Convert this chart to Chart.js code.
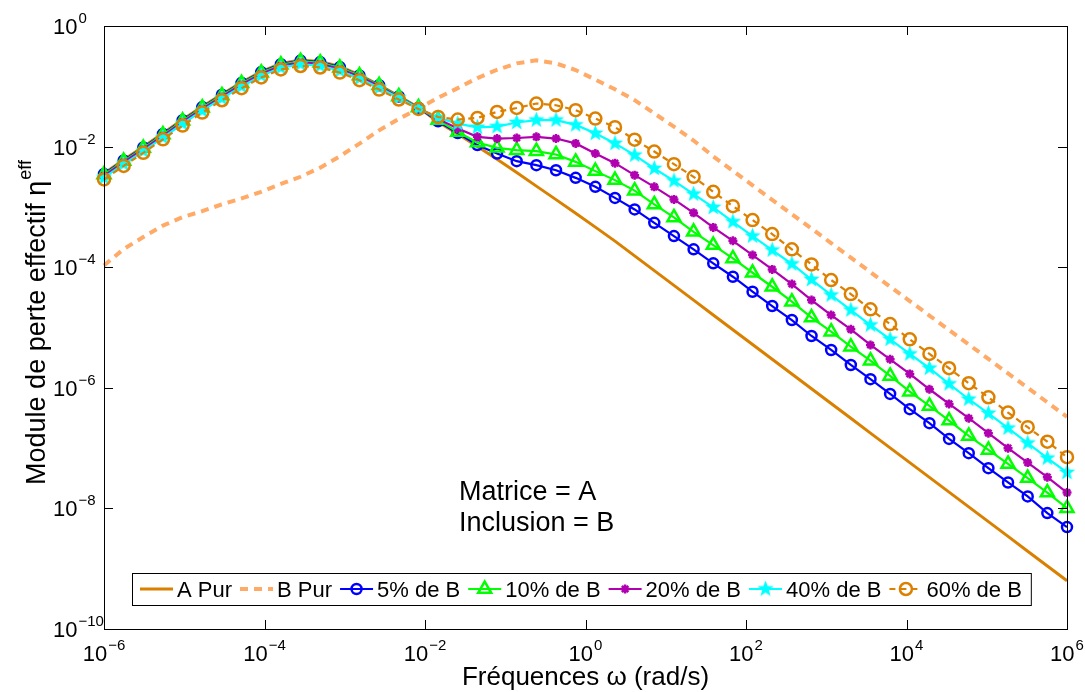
<!DOCTYPE html>
<html>
<head>
<meta charset="UTF-8">
<title>Module de perte effectif</title>
<script src="https://cdn.jsdelivr.net/npm/chart.js"></script>
<style>
  body { margin: 0; background: #fff; }
  #wrap { width: 1085px; height: 692px; }
</style>
</head>
<body>
<div id="wrap"><canvas id="myChart" width="1085" height="692"></canvas></div>

<script>
// frequencies (rad/s), 50 points per curve
const freq = [1e-6, 1.758e-6, 3.089e-6, 5.429e-6, 9.541e-6, 1.677e-5, 2.947e-5, 5.179e-5, 9.103e-5, 1.600e-4,
  2.812e-4, 4.942e-4, 8.685e-4, 1.526e-3, 2.683e-3, 4.715e-3, 8.286e-3, 1.456e-2, 2.559e-2, 4.498e-2,
  7.906e-2, 0.1389, 0.2442, 0.4292, 0.7543, 1.326, 2.330, 4.095, 7.197, 12.65,
  22.23, 39.07, 68.66, 120.7, 212.1, 372.8, 655.1, 1151, 2024, 3556,
  6251, 10985, 19307, 33932, 59636, 104811, 184207, 323746, 568987, 1e6];

const aPur = [3.59e-3, 6.03e-3, 9.91e-3, 1.66e-2, 2.81e-2, 4.62e-2, 7.40e-2, 0.117, 0.176, 0.239,
  0.274, 0.258, 0.213, 0.155, 0.105, 6.92e-2, 4.47e-2, 2.57e-2, 1.62e-2, 1.00e-2,
  6.17e-3, 3.72e-3, 2.21e-3, 1.32e-3, 7.85e-4, 4.62e-4, 2.71e-4, 1.54e-4, 8.77e-5, 4.99e-5,
  2.84e-5, 1.61e-5, 9.18e-6, 5.22e-6, 2.97e-6, 1.69e-6, 9.64e-7, 5.48e-7, 3.12e-7, 1.77e-7,
  1.01e-7, 5.74e-8, 3.27e-8, 1.86e-8, 1.06e-8, 6.03e-9, 3.43e-9, 1.95e-9, 1.11e-9, 6.31e-10];

const bPur = [1.07e-4, 2.00e-4, 3.16e-4, 4.90e-4, 6.76e-4, 8.51e-4, 1.10e-3, 1.38e-3, 1.78e-3, 2.40e-3,
  3.16e-3, 4.47e-3, 6.92e-3, 1.12e-2, 1.86e-2, 2.88e-2, 4.27e-2, 6.46e-2, 9.33e-2, 0.137,
  0.188, 0.240, 0.269, 0.240, 0.186, 0.129, 8.91e-2, 5.89e-2, 3.55e-2, 2.14e-2,
  1.26e-2, 6.89e-3, 3.96e-3, 2.28e-3, 1.31e-3, 7.57e-4, 4.36e-4, 2.51e-4, 1.44e-4, 8.28e-5,
  4.76e-5, 2.74e-5, 1.58e-5, 9.08e-6, 5.22e-6, 3.01e-6, 1.73e-6, 9.98e-7, 5.74e-7, 3.30e-7];

const p5 = [3.51e-3, 5.89e-3, 9.68e-3, 1.62e-2, 2.74e-2, 4.52e-2, 7.23e-2, 0.114, 0.172, 0.233,
  0.267, 0.252, 0.208, 0.151, 0.104, 6.78e-2, 4.42e-2, 2.63e-2, 1.68e-2, 1.06e-2,
  7.69e-3, 5.73e-3, 4.92e-3, 4.06e-3, 3.03e-3, 2.15e-3, 1.41e-3, 9.08e-4, 5.45e-4, 3.28e-4,
  1.98e-4, 1.16e-4, 6.95e-5, 3.92e-5, 2.27e-5, 1.33e-5, 7.23e-6, 4.24e-6, 2.39e-6, 1.39e-6,
  7.91e-7, 4.42e-7, 2.59e-7, 1.42e-7, 8.24e-8, 4.65e-8, 2.69e-8, 1.58e-8, 8.36e-9, 4.90e-9];

const p10 = [3.43e-3, 5.75e-3, 9.46e-3, 1.58e-2, 2.68e-2, 4.42e-2, 7.06e-2, 0.112, 0.168, 0.228,
  0.261, 0.246, 0.203, 0.151, 0.104, 6.78e-2, 4.47e-2, 2.75e-2, 1.75e-2, 1.17e-2,
  9.53e-3, 8.73e-3, 8.39e-3, 7.40e-3, 5.58e-3, 3.92e-3, 2.78e-3, 1.86e-3, 1.10e-3, 6.70e-4,
  3.86e-4, 2.33e-4, 1.40e-4, 8.09e-5, 4.74e-5, 2.68e-5, 1.46e-5, 8.51e-6, 4.81e-6, 2.82e-6,
  1.57e-6, 8.63e-7, 5.00e-7, 2.86e-7, 1.59e-7, 9.33e-8, 5.47e-8, 3.18e-8, 1.83e-8, 1.01e-8];

const p20 = [3.27e-3, 5.50e-3, 9.04e-3, 1.51e-2, 2.56e-2, 4.22e-2, 6.75e-2, 0.107, 0.160, 0.218,
  0.249, 0.235, 0.194, 0.145, 0.101, 6.62e-2, 4.42e-2, 2.88e-2, 2.00e-2, 1.45e-2,
  1.36e-2, 1.39e-2, 1.45e-2, 1.36e-2, 1.13e-2, 7.69e-3, 5.31e-3, 3.36e-3, 2.15e-3, 1.33e-3,
  7.98e-4, 4.57e-4, 2.74e-4, 1.59e-4, 9.20e-5, 5.26e-5, 2.85e-5, 1.61e-5, 9.33e-6, 5.13e-6,
  2.97e-6, 1.70e-6, 9.46e-7, 5.41e-7, 3.13e-7, 1.77e-7, 9.98e-8, 5.75e-8, 3.30e-8, 1.83e-8];

const p40 = [3.05e-3, 5.13e-3, 8.43e-3, 1.41e-2, 2.39e-2, 3.94e-2, 6.30e-2, 9.95e-2, 0.150, 0.203,
  0.233, 0.219, 0.181, 0.135, 9.46e-2, 6.46e-2, 4.32e-2, 3.02e-2, 2.40e-2, 2.09e-2,
  2.14e-2, 2.51e-2, 2.75e-2, 2.75e-2, 2.29e-2, 1.66e-2, 1.13e-2, 7.21e-3, 4.34e-3, 2.70e-3,
  1.63e-3, 9.79e-4, 5.66e-4, 3.28e-4, 1.92e-4, 1.13e-4, 6.24e-5, 3.45e-5, 1.95e-5, 1.10e-5,
  6.37e-6, 3.64e-6, 2.11e-6, 1.16e-6, 6.46e-7, 3.78e-7, 2.14e-7, 1.21e-7, 6.81e-8, 3.94e-8];

const p60 = [2.85e-3, 4.79e-3, 7.87e-3, 1.32e-2, 2.23e-2, 3.67e-2, 5.87e-2, 9.29e-2, 0.140, 0.190,
  0.217, 0.205, 0.169, 0.126, 8.83e-2, 6.04e-2, 4.22e-2, 3.10e-2, 2.81e-2, 2.99e-2,
  3.76e-2, 4.37e-2, 5.18e-2, 4.85e-2, 4.01e-2, 2.92e-2, 2.10e-2, 1.30e-2, 8.28e-3, 5.12e-3,
  3.15e-3, 1.78e-3, 1.03e-3, 6.04e-4, 3.54e-4, 1.98e-4, 1.11e-4, 6.12e-5, 3.59e-5, 2.00e-5,
  1.14e-5, 6.37e-6, 3.64e-6, 2.11e-6, 1.19e-6, 6.97e-7, 3.88e-7, 2.22e-7, 1.28e-7, 7.08e-8];

const labels = ['A Pur', 'B Pur', '5% de B', '10% de B', '20% de B', '40% de B', '60% de B'];
const xTicks = [1e-6, 1e-4, 1e-2, 1, 1e2, 1e4, 1e6];
const xTickExp = ['\u22126', '\u22124', '\u22122', '0', '2', '4', '6'];
const yTicks = [1, 1e-2, 1e-4, 1e-6, 1e-8, 1e-10];
const yTickExp = ['0', '\u22122', '\u22124', '\u22126', '\u22128', '\u221210'];

const FONT = '"Liberation Sans", Arial, Helvetica, sans-serif';

// filled five point star, like the matlab pentagram marker
function makeStar(size, color) {
    const c = document.createElement('canvas');
    c.width = size; c.height = size;
    const g = c.getContext('2d');
    const R = size / 2, r = R * 0.42;
    g.beginPath();
    for (let i = 0; i < 10; i++) {
        const a = -Math.PI / 2 + i * Math.PI / 5;
        const rr = i % 2 ? r : R;
        g.lineTo(R + rr * Math.cos(a), R + rr * Math.sin(a));
    }
    g.closePath();
    g.fillStyle = color;
    g.fill();
    return c;
}
const starImg = makeStar(17, '#00FFFF');

const looks = [
    { data: aPur, color: '#D98000', width: 3, dash: [], mark: null },
    { data: bPur, color: '#FFAA66', width: 4, dash: [8, 6], mark: null },
    { data: p5, color: '#0000FF', width: 2.2, dash: [], mark: 'circle', r: 5 },
    { data: p10, color: '#00FF00', width: 2.2, dash: [], mark: 'triangle', r: 7.5 },
    { data: p20, color: '#B000B0', width: 2.2, dash: [], mark: 'star', r: 4.5 },
    { data: p40, color: '#00FFFF', width: 2.2, dash: [], mark: 'pentagram', r: 8 },
    { data: p60, color: '#DD8000', width: 2.2, dash: [6, 5], mark: 'circle', r: 6 }
];

const datasets = looks.map((s, i) => ({
    label: labels[i],
    data: s.data.map((v, j) => ({ x: freq[j], y: v })),
    borderColor: s.color,
    borderWidth: s.width,
    borderDash: s.dash,
    pointStyle: s.mark === 'pentagram' ? starImg : (s.mark || 'circle'),
    pointRadius: s.mark ? s.r : 0,
    pointBorderColor: s.color,
    pointBackgroundColor: 'rgba(0,0,0,0)',
    pointBorderWidth: 2.5,
    tension: 0,
    fill: false,
    order: looks.length - i,
    clip: 12
}));

function drawMark(ctx, s, x, y) {
    ctx.save();
    ctx.setLineDash([]);
    ctx.strokeStyle = s.color;
    ctx.lineWidth = 2.5;
    const r = s.r;
    ctx.beginPath();
    if (s.mark === 'circle') {
        ctx.arc(x, y, r, 0, Math.PI * 2);
        ctx.stroke();
    } else if (s.mark === 'triangle') {
        for (let k = 0; k < 3; k++) {
            const a = k * 2 * Math.PI / 3;
            ctx.lineTo(x + Math.sin(a) * r, y - Math.cos(a) * r);
        }
        ctx.closePath();
        ctx.stroke();
    } else if (s.mark === 'star') {
        const d = r * Math.SQRT1_2;
        ctx.moveTo(x - d, y - d); ctx.lineTo(x + d, y + d);
        ctx.moveTo(x - d, y + d); ctx.lineTo(x + d, y - d);
        ctx.moveTo(x, y - r); ctx.lineTo(x, y + r);
        ctx.moveTo(x - r, y); ctx.lineTo(x + r, y);
        ctx.stroke();
    } else if (s.mark === 'pentagram') {
        ctx.drawImage(starImg, x - starImg.width / 2, y - starImg.height / 2);
    }
    ctx.restore();
}

const matlabAxes = {
    id: 'matlabAxes',
    afterDraw(chart) {
        const { ctx, chartArea: a } = chart;
        const x = chart.scales.x, y = chart.scales.y;
        ctx.save();
        ctx.fillStyle = '#000';
        ctx.strokeStyle = '#000';
        ctx.lineWidth = 1;

        // axes box and inward ticks
        ctx.strokeRect(a.left + 0.5, a.top + 0.5, a.right - a.left, a.bottom - a.top);
        ctx.beginPath();
        xTicks.forEach(v => {
            const px = Math.round(x.getPixelForValue(v)) + 0.5;
            ctx.moveTo(px, a.bottom); ctx.lineTo(px, a.bottom - 9);
            ctx.moveTo(px, a.top); ctx.lineTo(px, a.top + 9);
        });
        yTicks.forEach(v => {
            const py = Math.round(y.getPixelForValue(v)) + 0.5;
            ctx.moveTo(a.left, py); ctx.lineTo(a.left + 9, py);
            ctx.moveTo(a.right, py); ctx.lineTo(a.right - 9, py);
        });
        ctx.stroke();

        // tick labels 10^n
        ctx.textAlign = 'left';
        ctx.textBaseline = 'alphabetic';
        xTicks.forEach((v, i) => {
            const px = x.getPixelForValue(v);
            ctx.font = '22px ' + FONT;
            const w1 = ctx.measureText('10').width;
            ctx.font = '15px ' + FONT;
            const w2 = ctx.measureText(xTickExp[i]).width;
            const x0 = px - (w1 + w2 + 1) / 2;
            ctx.font = '22px ' + FONT;
            ctx.fillText('10', x0, 661);
            ctx.font = '15px ' + FONT;
            ctx.fillText(xTickExp[i], x0 + w1 + 1, 650);
        });
        yTicks.forEach((v, i) => {
            const py = y.getPixelForValue(v);
            ctx.font = '22px ' + FONT;
            const w1 = ctx.measureText('10').width;
            ctx.fillText('10', 53, py + 8);
            ctx.font = '15px ' + FONT;
            ctx.fillText(yTickExp[i], 53 + w1 + 1, py - 3);
        });

        // axis titles
        ctx.font = '26px ' + FONT;
        ctx.textAlign = 'center';
        ctx.fillText('Fréquences ω (rad/s)', (a.left + a.right) / 2, 685);

        ctx.save();
        ctx.translate(45, 323);
        ctx.rotate(-Math.PI / 2);
        ctx.textAlign = 'left';
        ctx.font = '27px ' + FONT;
        const main = 'Module de perte effectif η';
        const wm = ctx.measureText(main).width;
        ctx.font = '18px ' + FONT;
        const ws = ctx.measureText('eff').width;
        const s0 = -(wm + ws) / 2;
        ctx.font = '27px ' + FONT;
        ctx.fillText(main, s0, 0);
        ctx.font = '18px ' + FONT;
        ctx.fillText('eff', s0 + wm + 1, -14);
        ctx.restore();

        // annotation
        ctx.textAlign = 'left';
        ctx.font = '27px ' + FONT;
        ctx.fillText('Matrice = A', 459, 500);
        ctx.fillText('Inclusion = B', 459, 531);

        // legend, one row in a box
        ctx.font = '22px ' + FONT;
        const boxL = 132, boxT = 573, boxH = 32, cy = boxT + boxH / 2;
        let sx = 140;
        const items = looks.map((s, i) => {
            const it = { s: s, label: labels[i], x: sx };
            sx += 37 + ctx.measureText(labels[i]).width + 8;
            return it;
        });
        const boxR = sx + 1;
        ctx.fillStyle = '#fff';
        ctx.fillRect(boxL, boxT, boxR - boxL, boxH);
        ctx.strokeRect(boxL + 0.5, boxT + 0.5, boxR - boxL, boxH);
        items.forEach(it => {
            ctx.save();
            ctx.strokeStyle = it.s.color;
            ctx.lineWidth = it.s.width;
            ctx.setLineDash(it.s.dash);
            ctx.beginPath();
            ctx.moveTo(it.x, cy);
            ctx.lineTo(it.x + 33, cy);
            ctx.stroke();
            ctx.restore();
            if (it.s.mark) drawMark(ctx, it.s, it.x + 16.5, cy);
            ctx.fillStyle = '#000';
            ctx.fillText(it.label, it.x + 37, cy + 8);
        });
        ctx.restore();
    }
};

const ctx = document.getElementById('myChart').getContext('2d');
new Chart(ctx, {
    type: 'line',
    data: { datasets: datasets },
    options: {
        responsive: false,
        animation: false,
        layout: { padding: { left: 0, top: 26, right: 18, bottom: 0 } },
        plugins: { legend: { display: false }, tooltip: { enabled: false } },
        scales: {
            x: {
                type: 'logarithmic', min: 1e-6, max: 1e6,
                grid: { display: false }, border: { display: false },
                ticks: { display: false },
                afterBuildTicks: s => { s.ticks = xTicks.map(v => ({ value: v })); },
                afterFit: s => { s.height = 63; }
            },
            y: {
                type: 'logarithmic', min: 1e-10, max: 1,
                grid: { display: false }, border: { display: false },
                ticks: { display: false },
                afterBuildTicks: s => { s.ticks = yTicks.map(v => ({ value: v })); },
                afterFit: s => { s.width = 104; }
            }
        }
    },
    plugins: [matlabAxes]
});
</script>
</body>
</html>
